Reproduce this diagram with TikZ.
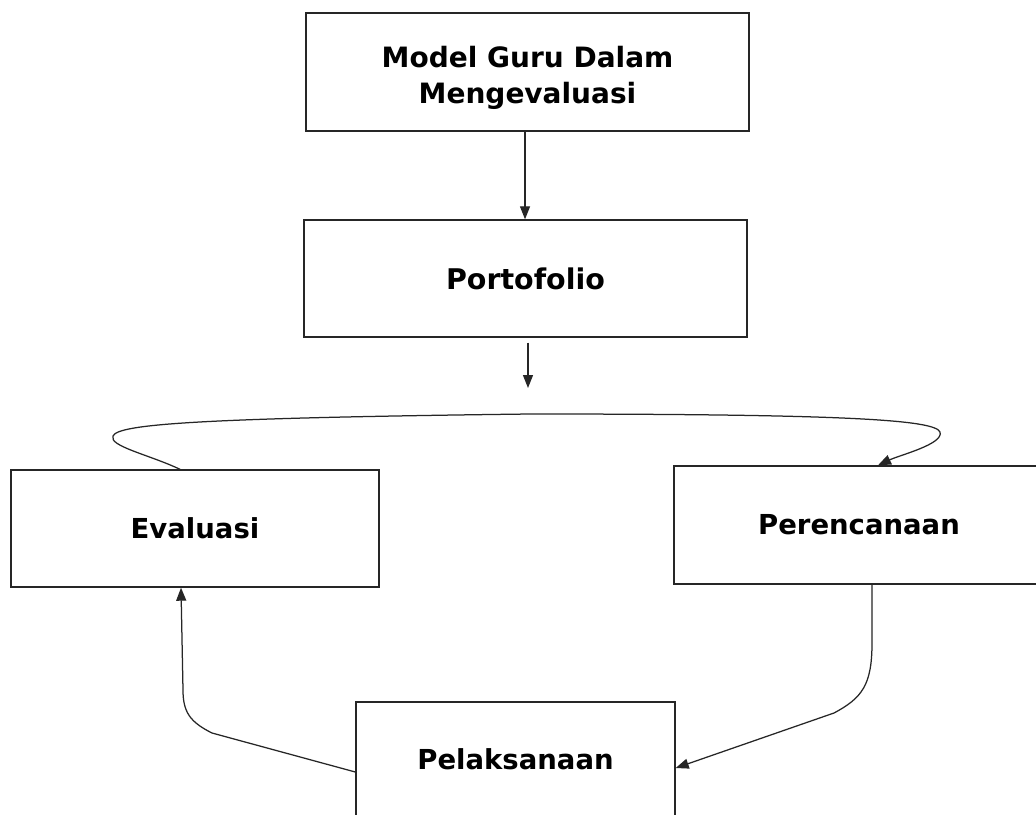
\documentclass[tikz,border=0pt]{standalone}
\usepackage{fontspec}
\setmainfont{DejaVu Sans}
\usetikzlibrary{arrows.meta,calc}
\begin{document}
\begin{tikzpicture}[x=1pt,y=-1pt,
  box/.style={draw=black!85, line width=1.4pt, fill=white, inner sep=0pt,
    font=\bfseries\fontsize{27.5}{33}\selectfont},
  conn/.style={draw=black!85, line width=1.25pt, -{Triangle[length=13pt,width=10pt]}},
]
\useasboundingbox (0,0) rectangle (1036,814);
\fill[white] (0,0) rectangle (1036,814);
\clip (0,0) rectangle (1036,814);

\node[box, minimum width=443pt, minimum height=118pt,
  font=\bfseries\fontsize{28}{36}\selectfont] (model) at (527.5,72)
  {\raisebox{0pt}[\height][\dimexpr\depth-12pt\relax]{\begin{tabular}{@{}c@{}}Model Guru Dalam\\Mengevaluasi\end{tabular}}};
\node[box, minimum width=443pt, minimum height=117pt,
  font=\bfseries\fontsize{28.5}{33}\selectfont] (port) at (525.5,278.5) {Portofolio};
\node[box, minimum width=368pt, minimum height=117pt] (ev) at (195,528.5) {Evaluasi};
\node[box, minimum width=370pt, minimum height=118pt] (pe) at (859,525) {Perencanaan};
\node[box, minimum width=319pt, minimum height=114pt] (pl) at (515.5,759) {Pelaksanaan};

\coordinate (a2) at (528,388);

\draw[conn] ([xshift=-2.5pt]model.south) -- ([xshift=-0.5pt]port.north);
\draw[conn] ([xshift=2.5pt,yshift=-5pt]port.south) -- (a2);

\draw[conn] ([xshift=-15pt]ev.north) .. controls (150,455) and (108,446) .. (113,436)
  .. controls (118,424) and (200,418) .. (530,414)
  .. controls (850,414) and (935,420) .. (940,432)
  .. controls (944,444) and (900,455) .. ([xshift=19pt]pe.north);

\draw[conn] ([xshift=13pt]pe.south) -- (872,643)
  .. controls (872,685) and (862,698) .. (834,713)
  -- ([yshift=-9pt]pl.east);

\draw[conn] ([yshift=-13pt]pl.west) -- (212,733)
  .. controls (190,722) and (183,712) .. (183,690)
  -- ([xshift=-14pt]ev.south);
\end{tikzpicture}
\end{document}
